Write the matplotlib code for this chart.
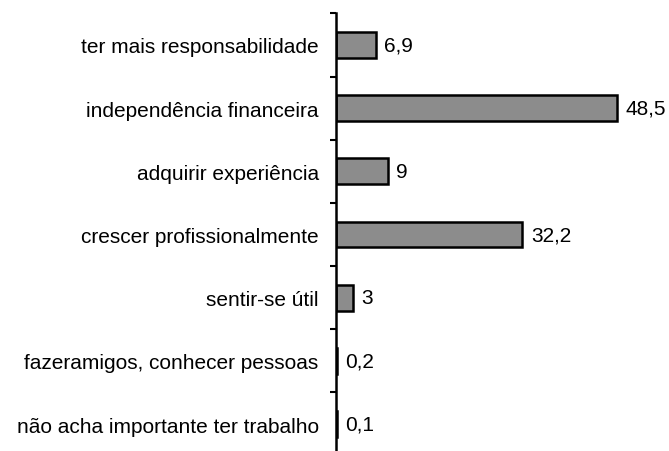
import matplotlib.pyplot as plt
import numpy as np

categories = [
    "ter mais responsabilidade",
    "independência financeira",
    "adquirir experiência",
    "crescer profissionalmente",
    "sentir-se útil",
    "fazeramigos, conhecer pessoas",
    "não acha importante ter trabalho",
]
values = [6.9, 48.5, 9, 32.2, 3, 0.2, 0.1]
value_labels = ["6,9", "48,5", "9", "32,2", "3", "0,2", "0,1"]

plt.rcParams['font.family'] = ['Liberation Sans', 'DejaVu Sans']

fig = plt.figure(figsize=(6.69, 4.52), dpi=100)
ax = fig.add_axes([336 / 669, -4.6 / 452, 333 / 669, 442.2 / 452])

y = np.arange(len(categories))
ax.barh(y, values, height=0.41, color="#8c8c8c", edgecolor="black", linewidth=1.8)

for yi, v, lab in zip(y, values, value_labels):
    ax.annotate(lab, (v, yi), xytext=(6, 0), textcoords="offset points",
                va="center", ha="left", fontsize=15, clip_on=False)

ax.set_ylim(len(categories) - 0.5, -0.5)
ax.set_xlim(0, 57.5)

ax.set_yticks(y)
ax.set_yticklabels(categories, fontsize=15)
ax.tick_params(axis="y", which="major", length=0, pad=12.5)
ax.set_yticks(np.arange(len(categories) + 1) - 0.5, minor=True)
ax.tick_params(axis="y", which="minor", length=4, width=1.5, direction="out")

ax.set_xticks([])
for s in ["top", "right", "bottom"]:
    ax.spines[s].set_visible(False)
ax.spines["left"].set_linewidth(1.8)

fig.savefig("out.png", dpi=100)
